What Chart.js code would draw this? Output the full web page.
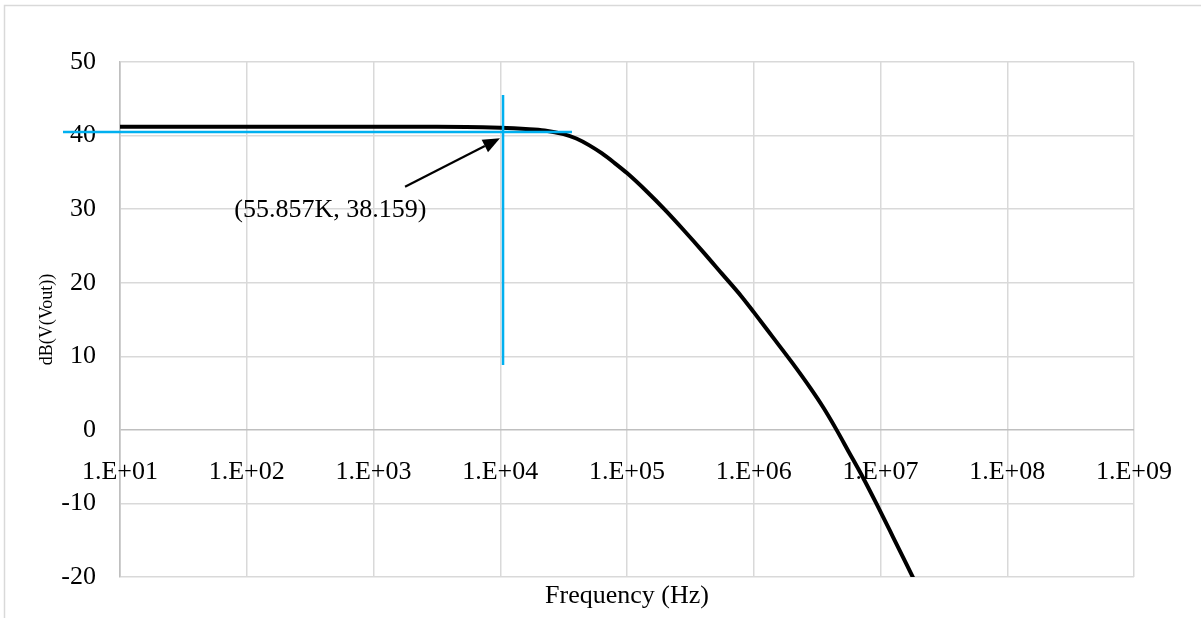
<!DOCTYPE html>
<html>
<head>
<meta charset="utf-8">
<script src="https://cdn.jsdelivr.net/npm/chart.js@4.4.1/dist/chart.umd.min.js"></script>
<style>
  body { margin: 0; background: #fff; }
  canvas { display: block; }
</style>
</head>
<body>
<canvas id="myChart" width="1201" height="618"></canvas>
<script>
// frequency response
const freqHz = [10, 100, 1000, 3162, 10000, 15850, 22390, 31620, 39810, 50120, 63100, 79430,
  100000, 141300, 199500, 281800, 398100, 562300, 794300, 1000000, 1413000, 1995000,
  2818000, 3548000, 4467000, 5623000, 7079000, 9333000, 12590000, 18200000];
const gainDb = [41.2, 41.2, 41.2, 41.2, 41.05, 40.9, 40.7, 40.2, 39.6, 38.7, 37.6, 36.3,
  34.9, 32.5, 29.9, 27.1, 24.2, 21.2, 18.2, 16.0, 12.6, 9.2,
  5.6, 3.0, 0.1, -3.0, -6.1, -10.1, -14.6, -20.2];

const xTickValues = [1e1, 1e2, 1e3, 1e4, 1e5, 1e6, 1e7, 1e8, 1e9];
const xTickLabels = ['1.E+01', '1.E+02', '1.E+03', '1.E+04', '1.E+05', '1.E+06', '1.E+07', '1.E+08', '1.E+09'];

// cursor cross (cyan)
const cursorHx = [3.55, 36800];
const cursorHy = [40.5, 40.5];
const cursorVx = [10520, 10520];
const cursorVy = [45.5, 8.8];

// arrow + label
const arrowFrom = [1774, 33.05];
const arrowTo = [9950, 39.63];
const labelAt = [456, 29.9];
const labelText = '(55.857K, 38.159)';

const serif = "'Liberation Serif', 'Times New Roman', serif";

const toPts = (xs, ys) => xs.map((x, i) => ({ x: x, y: ys[i] }));

const extras = {
  id: 'extras',
  beforeDraw(chart) {
    const ctx = chart.ctx;
    ctx.save();
    ctx.strokeStyle = '#d9d9d9';
    ctx.lineWidth = 1.5;
    ctx.strokeRect(4.5, 5.5, 1300, 700);
    ctx.restore();
  },
  afterDraw(chart) {
    const ctx = chart.ctx;
    const xs = chart.scales.x;
    const ys = chart.scales.y;
    const y0 = ys.getPixelForValue(0);

    ctx.save();
    ctx.fillStyle = '#000';
    ctx.font = '26px ' + serif;
    ctx.textAlign = 'center';
    ctx.textBaseline = 'middle';
    xTickValues.forEach((v, i) => {
      ctx.fillText(xTickLabels[i], xs.getPixelForValue(v), y0 + 42);
    });

    // annotation text
    ctx.fillText(labelText, xs.getPixelForValue(labelAt[0]), ys.getPixelForValue(labelAt[1]));

    // arrow
    const x1 = xs.getPixelForValue(arrowFrom[0]);
    const y1 = ys.getPixelForValue(arrowFrom[1]);
    const x2 = xs.getPixelForValue(arrowTo[0]);
    const y2 = ys.getPixelForValue(arrowTo[1]);
    const ang = Math.atan2(y2 - y1, x2 - x1);
    const headLen = 17;
    const headW = 7;
    const bx = x2 - headLen * Math.cos(ang);
    const by = y2 - headLen * Math.sin(ang);
    ctx.strokeStyle = '#000';
    ctx.lineWidth = 2.2;
    ctx.beginPath();
    ctx.moveTo(x1, y1);
    ctx.lineTo(bx, by);
    ctx.stroke();
    ctx.beginPath();
    ctx.moveTo(x2, y2);
    ctx.lineTo(bx + headW * Math.sin(ang), by - headW * Math.cos(ang));
    ctx.lineTo(bx - headW * Math.sin(ang), by + headW * Math.cos(ang));
    ctx.closePath();
    ctx.fill();
    ctx.restore();
  }
};

const ctx = document.getElementById('myChart').getContext('2d');
const myChart = new Chart(ctx, {
  type: 'line',
  data: {
    datasets: [
      {
        data: toPts(cursorHx, cursorHy),
        borderColor: '#00b0f0',
        borderWidth: 2.5,
        pointRadius: 0,
        clip: false
      },
      {
        data: toPts(cursorVx, cursorVy),
        borderColor: '#00b0f0',
        borderWidth: 2.5,
        pointRadius: 0,
        clip: false
      },
      {
        data: toPts(freqHz, gainDb),
        borderColor: '#000',
        borderWidth: 4,
        pointRadius: 0,
        cubicInterpolationMode: 'monotone'
      }
    ]
  },
  options: {
    responsive: false,
    animation: false,
    layout: { padding: { top: 62, right: 67, left: 0, bottom: 0 } },
    plugins: {
      legend: { display: false },
      tooltip: { enabled: false }
    },
    scales: {
      x: {
        type: 'logarithmic',
        min: 10,
        max: 1e9,
        afterBuildTicks: (scale) => {
          scale.ticks = xTickValues.map(v => ({ value: v }));
        },
        afterFit: (scale) => { scale.height = 41; },
        ticks: { display: false },
        grid: {
          drawTicks: false,
          color: (c) => c.index === 0 ? '#bfbfbf' : '#d9d9d9',
          lineWidth: 1.5
        },
        border: { display: false },
        title: {
          display: true,
          text: 'Frequency (Hz)',
          color: '#000',
          font: { family: serif, size: 26 },
          padding: { top: 0, bottom: 6 }
        }
      },
      y: {
        min: -20,
        max: 50,
        afterFit: (scale) => { scale.width = 120; },
        ticks: {
          stepSize: 10,
          color: '#000',
          padding: 24,
          font: { family: serif, size: 26 }
        },
        grid: {
          drawTicks: false,
          color: (c) => c.tick.value === 0 ? '#bfbfbf' : '#d9d9d9',
          lineWidth: 1.5
        },
        border: { color: '#bfbfbf', width: 1.5 },
        title: {
          display: true,
          text: 'dB(V(Vout))',
          color: '#000',
          font: { family: serif, size: 18 },
          padding: { top: 36, bottom: 0 }
        }
      }
    }
  },
  plugins: [extras]
});
</script>
</body>
</html>
